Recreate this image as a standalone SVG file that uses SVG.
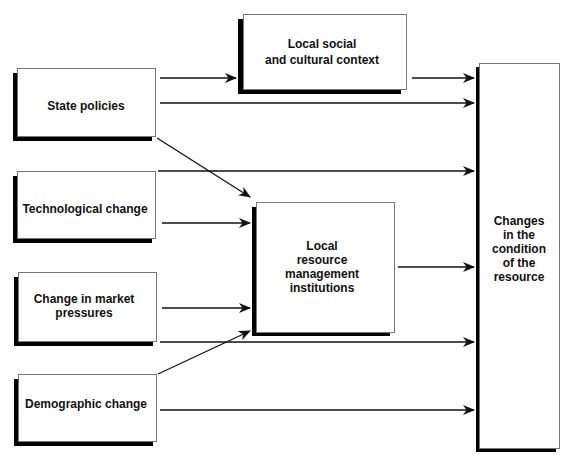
<svg xmlns="http://www.w3.org/2000/svg" width="568" height="464" viewBox="0 0 568 464">
<style>
.sh{fill:#000}
.bx{fill:#fff;stroke:#777;stroke-width:1}
.t{font-family:"Liberation Sans",Arial,sans-serif;font-size:12px;font-weight:bold;fill:#111;text-anchor:middle}
.c{stroke:#111;stroke-width:1.3;fill:none;marker-end:url(#ah)}
</style>
<defs>
<marker id="ah" viewBox="0 0 12 10" refX="11" refY="5" markerWidth="12" markerHeight="10" markerUnits="userSpaceOnUse" orient="auto">
<path d="M0,0 L12,5 L0,10 L3.5,5 z" fill="#111"/>
</marker>
</defs>
<rect width="568" height="464" fill="#fff"/>
<g id="connectors">
<line class="c" x1="160" y1="78" x2="236" y2="78"/>
<line class="c" x1="412" y1="78" x2="474" y2="78"/>
<line class="c" x1="160" y1="103" x2="474" y2="103"/>
<line class="c" x1="157" y1="138" x2="250" y2="197"/>
<line class="c" x1="158" y1="171" x2="474" y2="171"/>
<line class="c" x1="162" y1="223" x2="250" y2="223"/>
<line class="c" x1="398" y1="267" x2="474" y2="267"/>
<line class="c" x1="162" y1="308" x2="250" y2="308"/>
<line class="c" x1="160" y1="342" x2="474" y2="342"/>
<line class="c" x1="158" y1="374" x2="250" y2="331"/>
<line class="c" x1="160" y1="410" x2="474" y2="410"/>
</g>
<g id="state-policies">
<rect class="sh" x="13" y="73" width="139" height="68"/>
<rect class="bx" x="17.5" y="68.5" width="138" height="68"/>
<text class="t" x="86" y="110">State policies</text>
</g>
<g id="technological-change">
<rect class="sh" x="13" y="176" width="139" height="67"/>
<rect class="bx" x="17.5" y="171.5" width="138" height="67"/>
<text class="t" x="85" y="213">Technological change</text>
</g>
<g id="market-pressures">
<rect class="sh" x="14" y="277" width="139" height="69"/>
<rect class="bx" x="18.5" y="272.5" width="138" height="69"/>
<text class="t" x="84" y="303">Change in market</text>
<text class="t" x="84" y="317">pressures</text>
</g>
<g id="demographic-change">
<rect class="sh" x="14" y="379" width="139" height="67"/>
<rect class="bx" x="18.5" y="374.5" width="138" height="67"/>
<text class="t" x="86" y="408">Demographic change</text>
</g>
<g id="local-social-context">
<rect class="sh" x="238" y="19" width="163" height="75"/>
<rect class="bx" x="243.5" y="14.5" width="163" height="75"/>
<text class="t" x="322" y="48">Local social</text>
<text class="t" x="322" y="64">and cultural context</text>
</g>
<g id="local-resource-institutions">
<rect class="sh" x="252" y="207" width="138" height="129"/>
<rect class="bx" x="256.5" y="202.5" width="138" height="130"/>
<text class="t" x="322" y="250">Local</text>
<text class="t" x="322" y="264">resource</text>
<text class="t" x="322" y="278">management</text>
<text class="t" x="322" y="292">institutions</text>
</g>
<g id="changes-condition">
<rect class="sh" x="476" y="67" width="80" height="385"/>
<rect class="bx" x="479.5" y="63.5" width="80" height="385"/>
<text class="t" x="519" y="225">Changes</text>
<text class="t" x="519" y="239">in the</text>
<text class="t" x="519" y="253">condition</text>
<text class="t" x="519" y="267">of the</text>
<text class="t" x="519" y="281">resource</text>
</g>
</svg>
